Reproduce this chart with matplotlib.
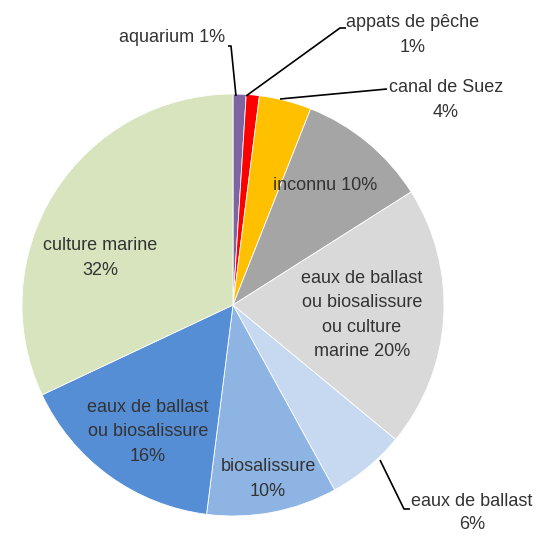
import matplotlib
matplotlib.use("Agg")
import matplotlib.pyplot as plt

plt.rcParams['font.family'] = ['Liberation Sans', 'DejaVu Sans']

labels = ["aquarium", "appats de pêche", "canal de Suez", "inconnu",
          "eaux de ballast\nou biosalissure\nou culture\nmarine", "eaux de ballast",
          "biosalissure", "eaux de ballast\nou biosalissure", "culture marine"]
values = [1, 1, 4, 10, 20, 6, 10, 16, 32]
colors = ["#8064A2", "#FF0000", "#FFC000", "#A5A5A5", "#D9D9D9", "#C6D9F1",
          "#8DB4E2", "#558ED5", "#D7E4BD"]

W, H = 542, 536
fig = plt.figure(figsize=(W / 100, H / 100), dpi=100)
ax = fig.add_axes([0, 0, 1, 1])

def P(x, y):
    return x, H - y

cx, cy = P(233, 305)
R = 211
ax.pie(values, colors=colors, startangle=90, counterclock=False,
       center=(cx, cy), radius=R, frame=True,
       wedgeprops=dict(edgecolor='white', linewidth=0.6))
ax.set_xlim(0, W)
ax.set_ylim(0, H)
ax.set_aspect('equal')
ax.axis('off')

fs = 13
tc = "#333333"

def txt(x, y, s, ha='center', ls=1.58):
    ax.text(*P(x, y), s, ha=ha, va='center', fontsize=fs, color=tc,
            linespacing=ls)

# outside labels
txt(172, 38, f"aquarium {values[0]}%")
txt(413, 35, f"appats de pêche\n{values[1]}%")
txt(446, 100, f"canal de Suez\n{values[2]}%")
txt(472, 513, f"eaux de ballast\n{values[5]}%", ls=1.45)
# inside labels
txt(325, 186, f"inconnu {values[3]}%")
txt(362, 315, f"eaux de ballast\nou biosalissure\nou culture\nmarine {values[4]}%")
txt(268, 479, f"biosalissure\n{values[6]}%")
txt(148, 432, f"eaux de ballast\nou biosalissure\n{values[7]}%")
txt(100, 258, f"culture marine\n{values[8]}%")

def leader(pts):
    xs = [p[0] for p in pts]
    ys = [H - p[1] for p in pts]
    ax.plot(xs, ys, color='black', linewidth=1.2, solid_capstyle='butt')

leader([(236, 96), (231, 46), (228, 46)])
leader([(246, 96), (340, 28), (346, 28)])
leader([(280, 99), (387, 89)])
leader([(380, 460), (404, 509), (410, 509)])

fig.savefig("out.png", dpi=100)
